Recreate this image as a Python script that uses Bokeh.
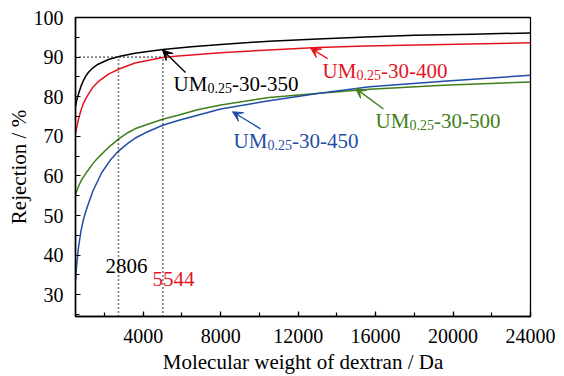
from bokeh.plotting import figure
from bokeh.models import Range1d, FixedTicker, Arrow, VeeHead, Label
from bokeh.embed import file_html
from bokeh.resources import INLINE

# ---- data ----
mw_350 = [500, 560, 650, 780, 900, 1030, 1160, 1400, 1670, 2200, 2800, 3570, 5000, 6500, 8000, 10500, 13000, 15500, 18000, 21000, 24000]
rej_350 = [77.5, 79.0, 80.6, 82.6, 84.0, 85.2, 86.1, 87.3, 88.2, 89.4, 90.2, 91.0, 91.9, 92.6, 93.2, 94.0, 94.6, 95.1, 95.5, 95.8, 96.1]

mw_400 = [500, 560, 650, 780, 900, 1030, 1160, 1400, 1670, 2200, 2750, 3570, 5000, 5800, 8000, 10500, 13000, 15500, 19500, 24000]
rej_400 = [70.5, 72.2, 74.2, 76.5, 78.2, 79.5, 80.6, 82.4, 83.8, 85.7, 87.0, 88.5, 89.9, 90.3, 91.1, 91.8, 92.4, 92.8, 93.2, 93.6]

mw_450 = [500, 560, 650, 780, 900, 1030, 1160, 1400, 1850, 2300, 2750, 3200, 3570, 4200, 5000, 5800, 8000, 10500, 13100, 15700, 19500, 24000]
rej_450 = [33.5, 37.5, 41.8, 46.0, 48.8, 51.0, 52.9, 56.2, 60.8, 64.0, 66.4, 68.2, 69.5, 71.1, 72.8, 74.0, 76.9, 79.0, 80.9, 82.5, 83.9, 85.4]

mw_500 = [500, 650, 800, 1000, 1160, 1400, 1590, 1850, 2300, 2750, 3200, 3570, 4200, 5000, 5800, 6800, 8000, 10500, 13100, 15700, 19500, 24000]
rej_500 = [55.3, 57.3, 58.9, 60.4, 61.5, 63.1, 64.2, 65.5, 67.6, 69.4, 70.9, 71.9, 73.0, 74.3, 75.3, 76.7, 77.9, 79.8, 80.9, 81.9, 82.9, 83.7]

cut_mw = [2720, 5010]      # dotted guide lines (as drawn)
cut_rej = 90
cut_labels = ["2806", "5544"]

y_ticks = [30, 40, 50, 60, 70, 80, 90, 100]
x_ticks = [4000, 8000, 12000, 16000, 20000, 24000]

BLACK = "#000000"
RED = "#e4141f"
BLUE = "#1f4ea6"
GREEN = "#3f7f1c"
FONT = "Liberation Serif"

p = figure(width=564, height=376, output_backend="svg", toolbar_location=None,
           x_range=Range1d(500, 24000), y_range=Range1d(24.5, 100),
           min_border_left=75, min_border_right=34, min_border_top=17, min_border_bottom=55)
p.background_fill_color = "white"
p.border_fill_color = "white"
p.outline_line_color = "black"
p.outline_line_width = 1.3
p.xgrid.visible = False
p.ygrid.visible = False

p.xaxis.ticker = FixedTicker(ticks=x_ticks, minor_ticks=list(range(2000, 24001, 2000)))
p.yaxis.ticker = FixedTicker(ticks=y_ticks, minor_ticks=list(range(25, 101, 5)))
for ax in (p.xaxis[0], p.yaxis[0]):
    ax.major_tick_in = 5
    ax.major_tick_out = 0
    ax.minor_tick_in = 4
    ax.minor_tick_out = 0
    ax.axis_line_color = "black"
    ax.axis_line_width = 1.5
    ax.major_tick_line_color = "black"
    ax.minor_tick_line_color = "black"
    ax.major_tick_line_width = 1.2
    ax.minor_tick_line_width = 1.2
    ax.major_label_text_font = FONT
    ax.major_label_text_font_size = "20px"
    ax.major_label_text_color = "black"
    ax.axis_label_text_font = FONT
    ax.axis_label_text_font_size = "21px"
    ax.axis_label_text_font_style = "normal"
    ax.axis_label_text_color = "black"
p.xaxis.axis_label = "Molecular weight of dextran / Da"
p.yaxis.axis_label = "Rejection / %"
p.xaxis.major_label_standoff = 12
p.yaxis.major_label_standoff = 12
p.xaxis.axis_label_standoff = 4
p.yaxis.axis_label_standoff = 0

# curves
p.line(mw_350, rej_350, line_color=BLACK, line_width=1.5)
p.line(mw_400, rej_400, line_color=RED, line_width=1.5)
p.line(mw_500, rej_500, line_color=GREEN, line_width=1.5)
p.line(mw_450, rej_450, line_color=BLUE, line_width=1.5)

# dotted guides
p.line([500, cut_mw[1]], [cut_rej, cut_rej], line_color="black", line_width=1.6, line_dash="1 3")
for xv in cut_mw:
    p.line([xv, xv], [24.5, cut_rej], line_color="black", line_width=1.6, line_dash="1 3")

# arrows
def arrow(xs, ys, xe, ye, c):
    p.add_layout(Arrow(end=VeeHead(size=10, fill_color=c, line_color=c, line_width=1),
                       x_start=xs, y_start=ys, x_end=xe, y_end=ye,
                       line_color=c, line_width=1.4))

arrow(6182, 86.1, 4994, 91.8, BLACK)
arrow(13516, 89.6, 12638, 92.3, RED)
arrow(16408, 76.9, 14962, 82.1, GREEN)
arrow(10055, 71.9, 8609, 76.2, BLUE)

# labels with subscript
def um_label(x, y, c, suffix):
    kw = dict(text_font=FONT, text_color=c, text_baseline="alphabetic", text_align="left")
    p.add_layout(Label(x=x, y=y, text="UM", text_font_size="21px", **kw))
    p.add_layout(Label(x=x, y=y - 1.0, x_offset=34, text="0.25", text_font_size="14px", **kw))
    p.add_layout(Label(x=x, y=y, x_offset=58.5, text=suffix, text_font_size="21px", **kw))

um_label(5562, 83.1, BLACK, "-30-350")
um_label(13258, 86.6, RED, "-30-400")
um_label(15995, 73.9, GREEN, "-30-500")
um_label(8661, 68.9, BLUE, "-30-450")

p.add_layout(Label(x=2050, y=37.2, text=cut_labels[0], text_font=FONT, text_font_size="21px",
                   text_color=BLACK, text_baseline="alphabetic"))
p.add_layout(Label(x=4477, y=33.9, text=cut_labels[1], text_font=FONT, text_font_size="21px",
                   text_color=RED, text_baseline="alphabetic"))

open("out.html", "w").write(file_html(p, INLINE))
